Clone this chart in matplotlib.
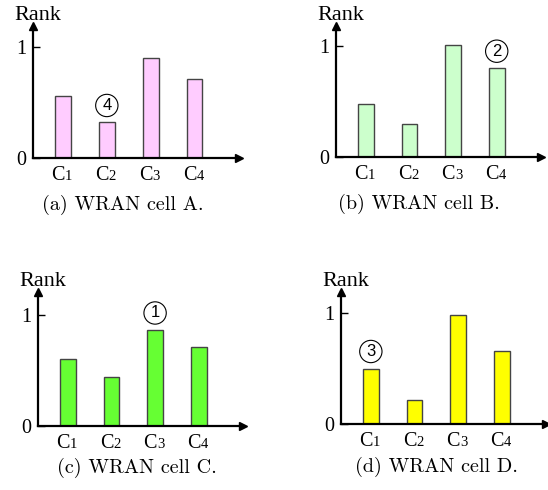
import numpy as np
import matplotlib.pyplot as plt

# data
categories = ['1', '2', '3', '4']
rank_a = [0.56, 0.32, 0.90, 0.71]
rank_b = [0.475, 0.30, 1.01, 0.80]
rank_c = [0.60, 0.44, 0.865, 0.71]
rank_d = [0.50, 0.22, 0.98, 0.66]
marks = [(1, '4'), (3, '2'), (2, '1'), (0, '3')]   # (bar index, circled number)
captions = ['(a) WRAN cell A.', '(b) WRAN cell B.', '(c) WRAN cell C.', '(d) WRAN cell D.']
colors = ['#FFCCFF', '#CCFFCC', '#66FF33', '#FFFF00']

W, H = 548, 490
fig = plt.figure(figsize=(W / 100, H / 100), dpi=100)

# axes boxes in pixels: left, x-axis y, width, height ; caption centre x, y
boxes = [(33, 158, 206, 132, 123, 205),
         (336, 157, 205, 131, 419, 204),
         (38, 426, 205, 134, 137, 468),
         (341, 424, 205, 132, 436, 467)]

serif = 'Liberation Serif'

for vals, col, (mi, mt), cap, (l, b, w, h, cx, cy) in zip(
        [rank_a, rank_b, rank_c, rank_d], colors, marks, captions, boxes):
    ax = fig.add_axes([l / W, 1 - b / H, w / W, h / H])
    x = np.arange(len(vals))
    ax.bar(x, vals, width=0.36, color=col, edgecolor='#444444', linewidth=1.0, zorder=2)
    ax.set_xlim(-0.684, 4.015)
    ax.set_ylim(0, h / 111)

    for s in ['top', 'right']:
        ax.spines[s].set_visible(False)
    for s in ['left', 'bottom']:
        ax.spines[s].set_linewidth(1.6)
        ax.spines[s].set_zorder(3)
    ax.plot(1, 0, '>k', ms=6, transform=ax.get_yaxis_transform(), clip_on=False)
    ax.plot(0, 1, '^k', ms=6, transform=ax.transAxes, clip_on=False)

    ax.set_xticks([])
    ax.set_yticks([0, 1])
    ax.set_yticklabels(['0', '1'], fontfamily=serif, fontsize=14.5)
    ax.tick_params(axis='y', direction='in', length=5, width=1, pad=5)

    # category labels: "C" with a smaller digit
    for xi, c in zip(x, categories):
        ax.annotate('C', xy=(xi, 0), xytext=(2, -22), textcoords='offset pixels',
                    ha='right', va='baseline', fontfamily=serif, fontsize=14.5,
                    annotation_clip=False)
        ax.annotate(c, xy=(xi, 0), xytext=(2, -22), textcoords='offset pixels',
                    ha='left', va='baseline', fontfamily=serif, fontsize=10.5,
                    annotation_clip=False)

    ax.annotate('Rank', xy=(0, 1), xycoords='axes fraction', xytext=(5, 6),
                textcoords='offset pixels', ha='center', va='baseline',
                fontfamily=serif, fontsize=16)

    ax.annotate(mt, xy=(mi, vals[mi]), xytext=(0, 17), textcoords='offset pixels',
                ha='center', va='center', fontfamily='Liberation Sans', fontsize=12,
                bbox=dict(boxstyle='circle,pad=0.22', fc='white', ec='black', lw=0.8),
                annotation_clip=False)

    fig.text(cx / W, 1 - cy / H, cap, ha='center', va='center',
             fontfamily='cmr10', fontsize=14.5)

fig.savefig('out.png', dpi=100, facecolor='white')
